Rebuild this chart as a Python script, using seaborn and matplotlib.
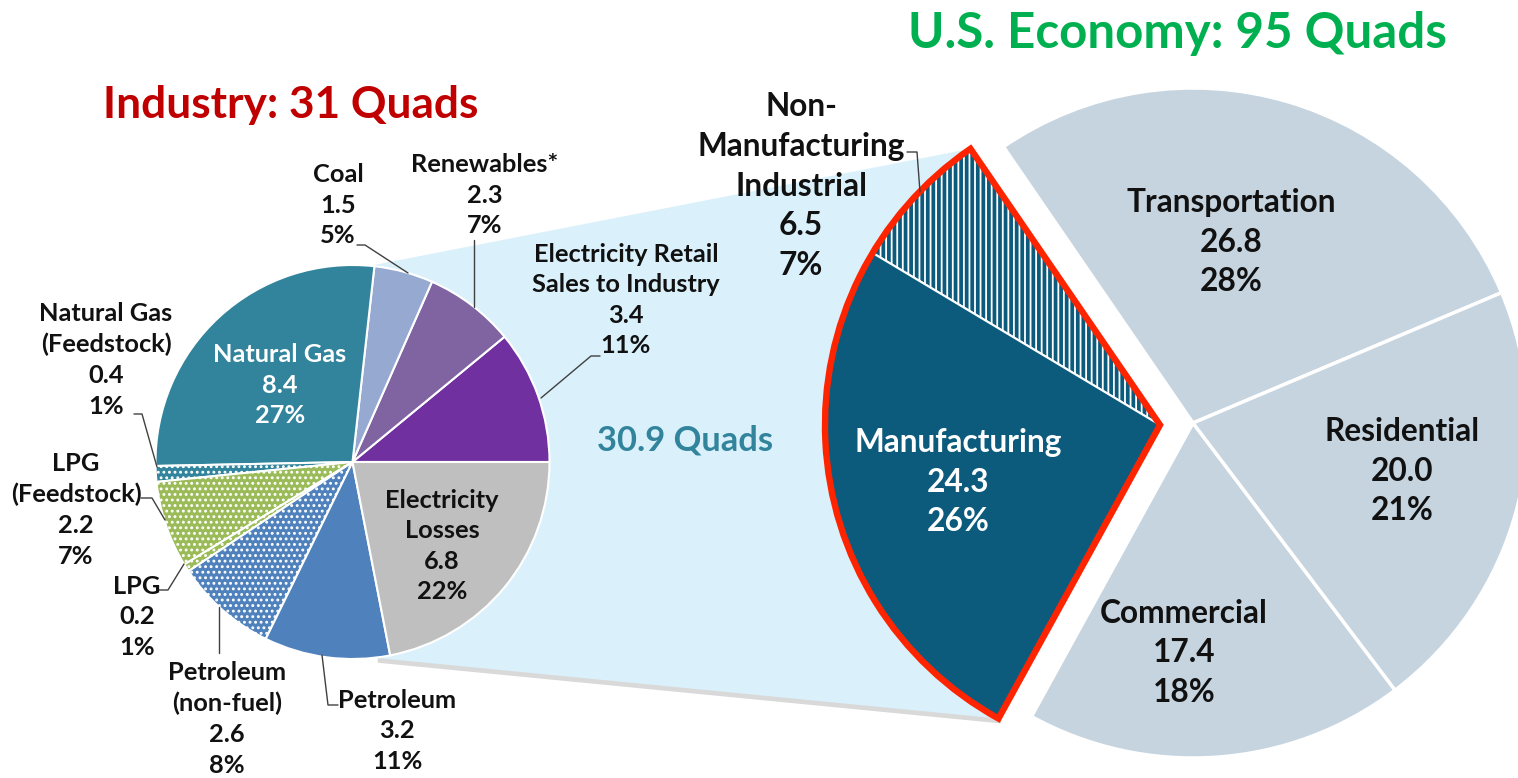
import numpy as np
import matplotlib
matplotlib.use("Agg")
import matplotlib.pyplot as plt
import seaborn as sns
from matplotlib.patches import Polygon

# ---------------- data ----------------
industry_labels = ["Electricity Retail\nSales to Industry", "Renewables*", "Coal", "Natural Gas",
                   "Natural Gas\n(Feedstock)", "LPG\n(Feedstock)", "LPG", "Petroleum\n(non-fuel)",
                   "Petroleum", "Electricity\nLosses"]
industry_values = [3.4, 2.3, 1.5, 8.4, 0.4, 2.2, 0.2, 2.6, 3.2, 6.8]
industry_pcts = ["11%", "7%", "5%", "27%", "1%", "7%", "1%", "8%", "11%", "22%"]

economy_labels = ["Transportation", "Non-\nManufacturing\nIndustrial", "Manufacturing",
                  "Commercial", "Residential"]
economy_values = [26.8, 6.5, 24.3, 17.4, 20.0]
economy_pcts = ["28%", "7%", "26%", "18%", "21%"]

title_industry = "Industry: 31 Quads"
title_economy = "U.S. Economy: 95 Quads"
industry_total_label = "30.9 Quads"

# ---------------- style ----------------
industry_colors = ["#7030A0", "#8064A2", "#95A9D1", "#31849B", "#31849B", "#9BBB59",
                   "#9BBB59", "#4F81BD", "#4F81BD", "#BFBFBF"]
industry_hatches = [None, None, None, None, "...", "...", "...", "...", None, None]
economy_colors = ["#C5D4DF", "#0C5B7D", "#0C5B7D", "#C5D4DF", "#C5D4DF"]
economy_hatches = [None, "|||", None, None, None]

sns.set_style("white")
plt.rcParams['font.family'] = ['Lato', 'DejaVu Sans']
plt.rcParams['hatch.linewidth'] = 1.3

W, H = 1518, 778
fig = plt.figure(figsize=(W / 100, H / 100), dpi=100)
ax = fig.add_axes([0, 0, 1, 1])


def P(x, y):
    return (x, H - y)


# ---------------- left pie (industry) ----------------
lc = P(352.5, 462)
lr = 197
wl, _ = ax.pie(industry_values, colors=industry_colors, startangle=0, counterclock=True,
               center=lc, radius=lr, frame=True,
               wedgeprops=dict(edgecolor="white", linewidth=1.5, zorder=3))
for w, h in zip(wl, industry_hatches):
    if h:
        w.set_hatch(h)

# ---------------- right pie (economy) ----------------
rc = P(1193, 423)
rr = 335
start_r = 22.9
shift = (-33, -2)
sc = (rc[0] + shift[0], rc[1] + shift[1])

wr, _ = ax.pie(economy_values, colors=economy_colors, startangle=start_r, counterclock=True,
               center=rc, radius=rr, frame=True,
               wedgeprops=dict(edgecolor="white", linewidth=2.5, zorder=3))
for i in (1, 2):
    wr[i].set_visible(False)

ws, _ = ax.pie(economy_values, colors=economy_colors, startangle=start_r, counterclock=True,
               center=sc, radius=rr, frame=True,
               wedgeprops=dict(edgecolor="white", linewidth=1.5, zorder=3))
for i, w in enumerate(ws):
    if i not in (1, 2):
        w.set_visible(False)
    elif economy_hatches[i]:
        w.set_hatch(economy_hatches[i])

grouped = [economy_values[0], economy_values[1] + economy_values[2],
           economy_values[3], economy_values[4]]
wo, _ = ax.pie(grouped, colors=["none"] * 4, startangle=start_r, counterclock=True,
               center=sc, radius=rr, frame=True,
               wedgeprops=dict(edgecolor="none", linewidth=0, zorder=4))
for i, w in enumerate(wo):
    if i != 1:
        w.set_visible(False)
    else:
        w.set_facecolor("none")
        w.set_edgecolor("#FF2400")
        w.set_linewidth(4.6)
        w.set_joinstyle("miter")
out = wo[1]

# ---------------- connector band ----------------
a_top, a_bot = np.deg2rad(84.9), np.deg2rad(-83.5)
t1, t2 = np.deg2rad(out.theta1), np.deg2rad(out.theta2)
band = [
    (lc[0] + lr * np.cos(a_top), lc[1] + lr * np.sin(a_top)),
    (out.center[0] + out.r * np.cos(t1), out.center[1] + out.r * np.sin(t1)),
    (out.center[0] + out.r * np.cos(t2), out.center[1] + out.r * np.sin(t2)),
    (lc[0] + lr * np.cos(a_bot), lc[1] + lr * np.sin(a_bot)),
]
shadow = [(x + 3, y - 5) for x, y in band]
ax.add_patch(Polygon(shadow, closed=True, facecolor="#a0a0a0", edgecolor="none", alpha=0.4, zorder=1))
ax.add_patch(Polygon(band, closed=True, facecolor="#DAF1FB", edgecolor="none", zorder=2))

# ---------------- labels ----------------
TXT = "#111111"
lab_kw = dict(ha="center", va="center", fontweight="bold", fontsize=18.3, linespacing=1.4, zorder=6)

left_pos = [(626, 300), (485, 195), (338, 205), (280, 385), (106, 360), (76, 510),
            (137, 617), (227, 719), (397, 731), (442, 546)]
for i, (lab, v, p) in enumerate(zip(industry_labels, industry_values, industry_pcts)):
    color = "white" if i == 3 else TXT
    ax.text(*P(*left_pos[i]), f"{lab}\n{v:.1f}\n{p}", color=color, **lab_kw)

right_kw = dict(ha="center", va="center", fontweight="bold", fontsize=22.8, linespacing=1.45, zorder=6)
right_pos = [(1231, 242), (801, 186), (958, 482), (1184, 653), (1402, 471)]
for i, (lab, v, p) in enumerate(zip(economy_labels, economy_values, economy_pcts)):
    color = "white" if i == 2 else TXT
    ax.text(*P(*right_pos[i]), f"{lab}\n{v:.1f}\n{p}", color=color, **right_kw)

# leader lines
leaders = [
    [(357, 245), (365, 245), (408, 273)],
    [(474, 240), (474, 307)],
    [(600, 356), (591, 356), (541, 398)],
    [(134, 414), (142, 414), (157, 467)],
    [(141, 498), (152, 498), (165, 520)],
    [(158, 590), (168, 590), (184, 564)],
    [(219, 607), (219, 653)],
    [(322, 655), (328, 705), (338, 705)],
    [(907, 152), (917, 152), (920, 192)],
]
for seg in leaders:
    xs, ys = zip(*[P(x, y) for x, y in seg])
    ax.plot(xs, ys, color="#404040", lw=1.0, zorder=5)

# titles
ax.text(*P(291, 105), title_industry, color="#C00000", fontsize=31.8, fontweight="bold",
        ha="center", va="center", zorder=6)
ax.text(*P(1178, 33), title_economy, color="#00B050", fontsize=35.5, fontweight="bold",
        ha="center", va="center", zorder=6)
ax.text(*P(685, 440), industry_total_label, color="#31849B", fontsize=24.8, fontweight="bold",
        ha="center", va="center", zorder=6)

ax.set_xlim(0, W)
ax.set_ylim(0, H)
ax.set_aspect("equal")
ax.axis("off")
fig.savefig("out.png", dpi=100)
